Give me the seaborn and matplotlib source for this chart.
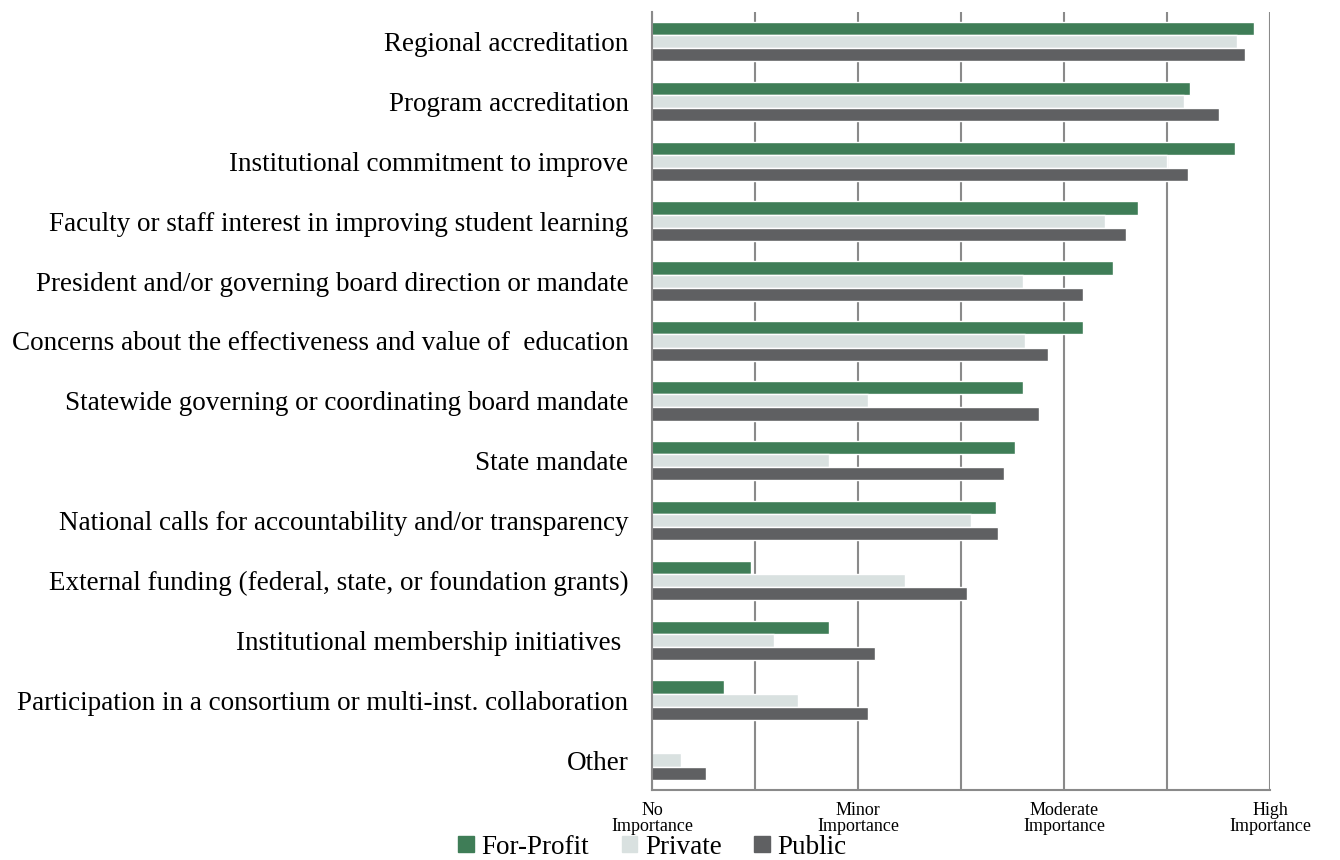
import pandas as pd
import seaborn as sns
import matplotlib
matplotlib.use("Agg")
import matplotlib.pyplot as plt

# ================================
# Data (mean importance, 1 = No ... 4 = High)
# ================================
categories = [
    "Regional accreditation",
    "Program accreditation",
    "Institutional commitment to improve",
    "Faculty or staff interest in improving student learning",
    "President and/or governing board direction or mandate",
    "Concerns about the effectiveness and value of  education",
    "Statewide governing or coordinating board mandate",
    "State mandate",
    "National calls for accountability and/or transparency",
    "External funding (federal, state, or foundation grants)",
    "Institutional membership initiatives ",
    "Participation in a consortium or multi-inst. collaboration",
    "Other",
]
for_profit = [3.92, 3.61, 3.83, 3.36, 3.24, 3.09, 2.80, 2.76, 2.67, 1.48, 1.86, 1.35, 1.00]
private = [3.84, 3.58, 3.50, 3.20, 2.80, 2.81, 2.05, 1.86, 2.55, 2.23, 1.59, 1.71, 1.14]
public = [3.88, 3.75, 3.60, 3.30, 3.09, 2.92, 2.88, 2.71, 2.68, 2.53, 2.08, 2.05, 1.26]

series_names = ["For-Profit", "Private", "Public"]
colors = ["#3f7d57", "#d9e1e0", "#5f6062"]
tick_vals = [1, 2, 3, 4]
tick_labels = ["No\nImportance", "Minor\nImportance", "Moderate\nImportance", "High\nImportance"]

rows = []
for name, vals in zip(series_names, [for_profit, private, public]):
    for cat, v in zip(categories, vals):
        rows.append({"category": cat, "type": name, "value": v})
df = pd.DataFrame(rows)

# ================================
# Plot
# ================================
sns.set_style("white")
plt.rcParams["font.family"] = ["Liberation Serif", "DejaVu Serif"]
plt.rcParams["text.color"] = "black"
plt.rcParams["xtick.labelcolor"] = "black"
plt.rcParams["ytick.labelcolor"] = "black"

fig = plt.figure(figsize=(13.4, 8.6), dpi=100)
ax = fig.add_axes([0.4866, 0.0814, 0.4612, 0.905])

sns.barplot(
    data=df, y="category", x="value", hue="type", orient="h",
    palette=colors, saturation=1, width=0.66, ax=ax, legend=False,
)

ax.set_xlim(1, 4)
ax.set_ylim(12.5, -0.5)
ax.set_xticks(tick_vals)
ax.set_xticklabels(tick_labels, fontsize=13, linespacing=0.9)
ax.set_xticks([1.5, 2.5, 3.5], minor=True)
ax.grid(True, axis="x", which="both", color="#8a8a8a", linewidth=1.5)
ax.set_axisbelow(True)

ax.set_yticks(range(len(categories)))
ax.set_yticklabels(categories, fontsize=19.5)
ax.set_yticks([i - 0.5 for i in range(len(categories) + 1)], minor=True)
ax.tick_params(axis="y", which="major", length=0, pad=17)
ax.tick_params(axis="y", which="minor", length=5, width=1.5, color="#8a8a8a")
ax.tick_params(axis="x", which="both", length=8, width=1.5, color="#8a8a8a", pad=1)
ax.set_xlabel("")
ax.set_ylabel("")

for side in ["top", "right"]:
    ax.spines[side].set_visible(False)
for side in ["left", "bottom"]:
    ax.spines[side].set_color("#8a8a8a")
    ax.spines[side].set_linewidth(1.5)

handles = [plt.Rectangle((0, 0), 1, 1, color=c) for c in colors]
fig.legend(
    handles, series_names, loc="lower center", bbox_to_anchor=(0.487, -0.028),
    ncol=3, frameon=False, fontsize=19.5, handlelength=0.56, handleheight=0.56,
    handletextpad=0.3, columnspacing=1.2,
)

plt.savefig("out.png", dpi=100)
plt.close()
